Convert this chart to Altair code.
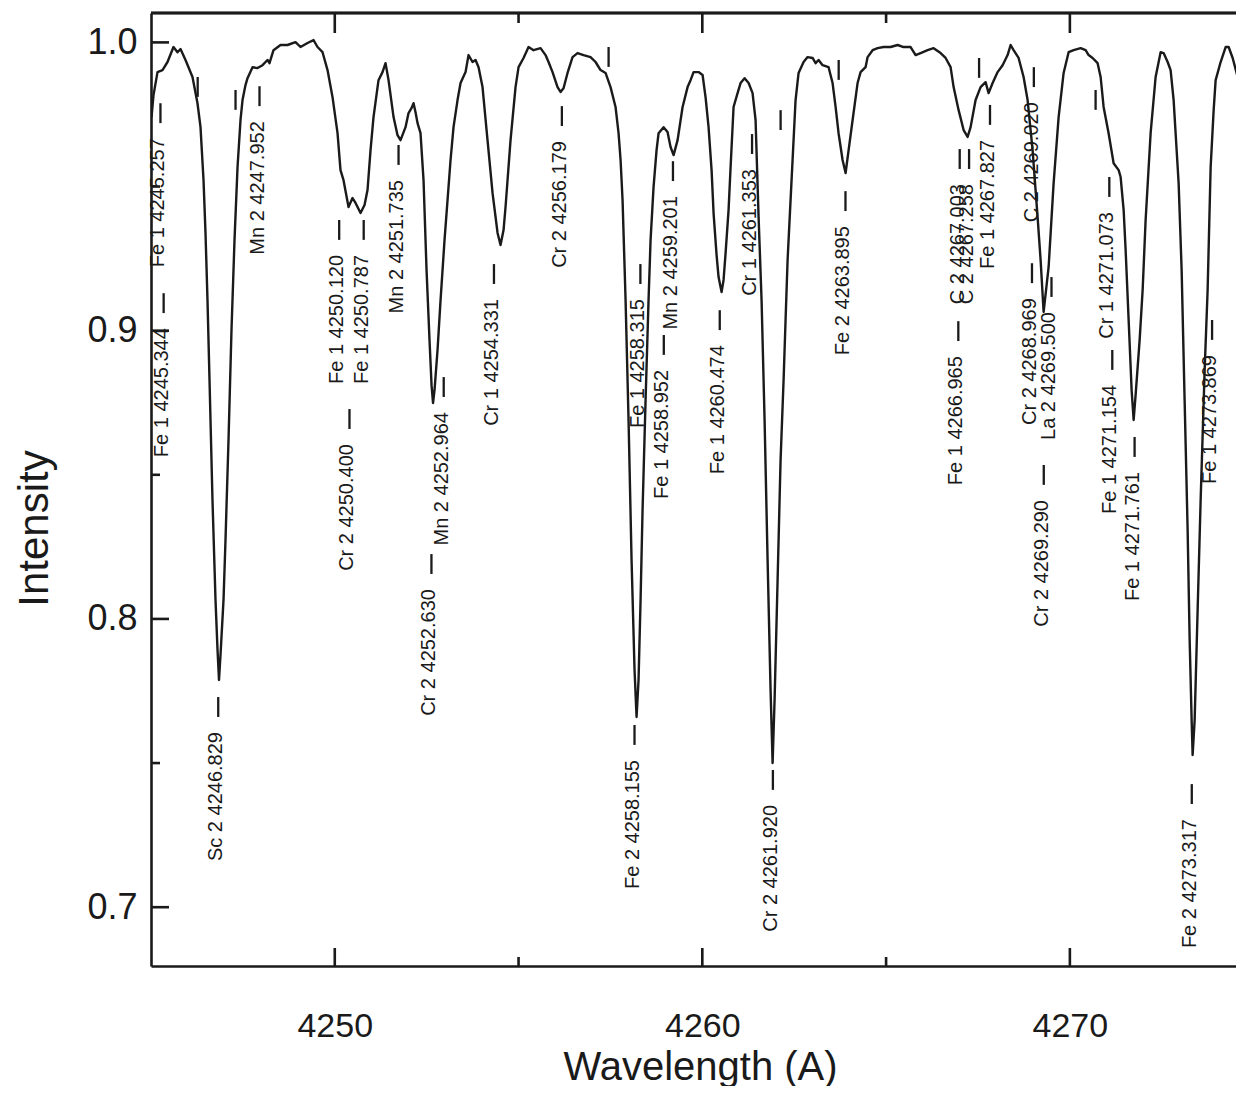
import altair as alt
import pandas as pd

FONT = "Liberation Sans"
INK = "#1a1a1a"

# ---- observed spectrum (wavelength in A, normalised intensity) ----
wave = [4245.014, 4245.068, 4245.177, 4245.313, 4245.449, 4245.612, 4245.721, 4245.803, 4245.939, 4246.129,
        4246.265, 4246.347, 4246.429, 4246.483, 4246.537, 4246.592, 4246.673, 4246.755, 4246.810, 4246.850,
        4246.891, 4246.973, 4247.027, 4247.109, 4247.190, 4247.272, 4247.354, 4247.435, 4247.490, 4247.571,
        4247.626, 4247.762, 4247.898, 4248.034, 4248.170, 4248.224, 4248.333, 4248.524, 4248.714, 4248.932,
        4249.068, 4249.259, 4249.422, 4249.531, 4249.667, 4249.803, 4249.939, 4250.075, 4250.156, 4250.238,
        4250.374, 4250.483, 4250.565, 4250.701, 4250.810, 4250.891, 4250.973, 4251.054, 4251.190, 4251.299,
        4251.381, 4251.463, 4251.599, 4251.707, 4251.789, 4251.925, 4252.007, 4252.088, 4252.143, 4252.197,
        4252.252, 4252.333, 4252.415, 4252.497, 4252.578, 4252.633, 4252.673, 4252.714, 4252.796, 4252.878,
        4252.986, 4253.068, 4253.150, 4253.231, 4253.340, 4253.422, 4253.558, 4253.639, 4253.748, 4253.830,
        4253.912, 4254.020, 4254.156, 4254.293, 4254.429, 4254.510, 4254.592, 4254.646, 4254.782, 4254.918,
        4255.000, 4255.136, 4255.272, 4255.408, 4255.599, 4255.735, 4255.816, 4255.925, 4256.061, 4256.143,
        4256.224, 4256.333, 4256.469, 4256.605, 4256.769, 4256.959, 4257.095, 4257.231, 4257.367, 4257.503,
        4257.639, 4257.721, 4257.776, 4257.830, 4257.912, 4257.993, 4258.075, 4258.156, 4258.211, 4258.265,
        4258.320, 4258.374, 4258.456, 4258.537, 4258.592, 4258.673, 4258.755, 4258.810, 4258.946, 4259.054,
        4259.136, 4259.218, 4259.327, 4259.463, 4259.599, 4259.680, 4259.762, 4259.898, 4260.007, 4260.088,
        4260.170, 4260.252, 4260.306, 4260.388, 4260.442, 4260.524, 4260.578, 4260.633, 4260.714, 4260.769,
        4260.850, 4260.959, 4261.041, 4261.150, 4261.259, 4261.367, 4261.449, 4261.531, 4261.612, 4261.694,
        4261.776, 4261.857, 4261.912, 4261.966, 4262.048, 4262.129, 4262.211, 4262.265, 4262.320, 4262.401,
        4262.537, 4262.619, 4262.755, 4262.864, 4263.000, 4263.082, 4263.163, 4263.272, 4263.435, 4263.544,
        4263.626, 4263.707, 4263.816, 4263.898, 4263.980, 4264.088, 4264.224, 4264.306, 4264.442, 4264.497,
        4264.633, 4264.769, 4264.932, 4265.122, 4265.313, 4265.476, 4265.667, 4265.803, 4265.939, 4266.129,
        4266.293, 4266.483, 4266.619, 4266.755, 4266.837, 4266.973, 4267.109, 4267.218, 4267.299, 4267.435,
        4267.571, 4267.707, 4267.789, 4267.898, 4268.034, 4268.170, 4268.306, 4268.388, 4268.469, 4268.605,
        4268.741, 4268.850, 4268.986, 4269.122, 4269.204, 4269.286, 4269.367, 4269.422, 4269.558, 4269.694,
        4269.830, 4269.966, 4270.102, 4270.293, 4270.429, 4270.510, 4270.619, 4270.755, 4270.837, 4270.918,
        4271.054, 4271.190, 4271.327, 4271.381, 4271.463, 4271.517, 4271.599, 4271.680, 4271.735, 4271.789,
        4271.898, 4271.980, 4272.061, 4272.197, 4272.333, 4272.469, 4272.551, 4272.660, 4272.741, 4272.823,
        4272.905, 4272.959, 4273.041, 4273.122, 4273.204, 4273.259, 4273.313, 4273.340, 4273.395, 4273.476,
        4273.558, 4273.667, 4273.748, 4273.830, 4273.912, 4273.966, 4274.102, 4274.238, 4274.320, 4274.429,
        4274.565, 4274.701, 4274.755]

flux = [0.9741, 0.9817, 0.9897, 0.9904, 0.9932, 0.9984, 0.9966, 0.9977, 0.9939, 0.9880,
        0.9789, 0.9706, 0.9522, 0.9339, 0.9106, 0.8829, 0.8412, 0.8066, 0.7892, 0.7788,
        0.7875, 0.8066, 0.8274, 0.8621, 0.9002, 0.9314, 0.9567, 0.9730, 0.9800, 0.9852,
        0.9876, 0.9914, 0.9911, 0.9921, 0.9939, 0.9928, 0.9973, 0.9991, 0.9991, 1.0001,
        0.9984, 0.9998, 1.0008, 0.9984, 0.9966, 0.9904, 0.9810, 0.9685, 0.9557, 0.9522,
        0.9429, 0.9460, 0.9443, 0.9408, 0.9436, 0.9488, 0.9626, 0.9741, 0.9869, 0.9897,
        0.9928, 0.9869, 0.9741, 0.9678, 0.9661, 0.9706, 0.9755, 0.9772, 0.9789, 0.9758,
        0.9720, 0.9685, 0.9522, 0.9210, 0.8967, 0.8811, 0.8749, 0.8794, 0.8933, 0.9106,
        0.9314, 0.9453, 0.9592, 0.9706, 0.9800, 0.9859, 0.9897, 0.9956, 0.9932, 0.9939,
        0.9914, 0.9845, 0.9661, 0.9477, 0.9339, 0.9297, 0.9349, 0.9429, 0.9661, 0.9845,
        0.9914, 0.9946, 0.9984, 0.9973, 0.9980, 0.9956, 0.9932, 0.9897, 0.9845, 0.9828,
        0.9841, 0.9894, 0.9949, 0.9963, 0.9956, 0.9949, 0.9932, 0.9904, 0.9894, 0.9845,
        0.9776, 0.9685, 0.9592, 0.9453, 0.9106, 0.8690, 0.8204, 0.7823, 0.7660, 0.7788,
        0.8066, 0.8378, 0.8759, 0.9106, 0.9314, 0.9498, 0.9626, 0.9685, 0.9706, 0.9689,
        0.9637, 0.9609, 0.9661, 0.9776, 0.9845, 0.9869, 0.9897, 0.9897, 0.9887, 0.9810,
        0.9706, 0.9557, 0.9408, 0.9262, 0.9186, 0.9134, 0.9176, 0.9269, 0.9418, 0.9567,
        0.9776, 0.9824, 0.9859, 0.9876, 0.9859, 0.9824, 0.9730, 0.9394, 0.9106, 0.8690,
        0.8204, 0.7753, 0.7500, 0.7719, 0.8135, 0.8551, 0.8829, 0.9037, 0.9245, 0.9453,
        0.9800, 0.9894, 0.9932, 0.9949, 0.9946, 0.9928, 0.9939, 0.9921, 0.9914, 0.9859,
        0.9776, 0.9685, 0.9592, 0.9547, 0.9626, 0.9730, 0.9859, 0.9897, 0.9914, 0.9949,
        0.9973, 0.9980, 0.9984, 0.9984, 0.9991, 0.9984, 0.9984, 0.9956, 0.9963, 0.9973,
        0.9980, 0.9963, 0.9946, 0.9914, 0.9845, 0.9765, 0.9696, 0.9672, 0.9706, 0.9800,
        0.9845, 0.9862, 0.9824, 0.9859, 0.9897, 0.9921, 0.9956, 0.9991, 0.9973, 0.9946,
        0.9880, 0.9800, 0.9626, 0.9394, 0.9245, 0.9065, 0.9158, 0.9221, 0.9512, 0.9741,
        0.9894, 0.9966, 0.9973, 0.9980, 0.9973, 0.9956, 0.9946, 0.9928, 0.9880, 0.9776,
        0.9685, 0.9581, 0.9557, 0.9533, 0.9418, 0.9280, 0.9037, 0.8794, 0.8690, 0.8777,
        0.8967, 0.9141, 0.9384, 0.9685, 0.9880, 0.9966, 0.9963, 0.9932, 0.9904, 0.9800,
        0.9626, 0.9512, 0.9210, 0.8759, 0.8308, 0.7927, 0.7649, 0.7528, 0.7649, 0.8031,
        0.8412, 0.8863, 0.9141, 0.9567, 0.9765, 0.9869, 0.9932, 0.9984, 0.9984, 0.9946,
        0.9880, 0.9800, 0.9730]

# ---- line identifications ----
line_species = ["Fe 1", "Fe 1", "Sc 2", "Mn 2", "Fe 1", "Fe 1", "Cr 2", "Mn 2", "Cr 2", "Mn 2",
                "Cr 1", "Cr 2", "Fe 2", "Fe 1", "Fe 1", "Mn 2", "Fe 1", "Cr 1", "Cr 2", "Fe 2",
                "Fe 1", "C 2", "C 2", "Fe 1", "Cr 2", "C 2", "Cr 2", "La 2", "Cr 1", "Fe 1",
                "Fe 1", "Fe 2", "Fe 1", "Cr 1"]
line_wave = [4245.257, 4245.344, 4246.829, 4247.952, 4250.120, 4250.787, 4250.400, 4251.735, 4252.630, 4252.964,
             4254.331, 4256.179, 4258.155, 4258.315, 4258.952, 4259.201, 4260.474, 4261.353, 4261.920, 4263.895,
             4266.965, 4267.003, 4267.258, 4267.827, 4268.969, 4269.020, 4269.290, 4269.500, 4271.073, 4271.154,
             4271.761, 4273.317, 4273.869, 4274.806]
line_level = [0.9789, 0.9130, 0.7729, 0.9848, 0.9384, 0.9384, 0.8728, 0.9644, 0.8225, 0.8839,
              0.9231, 0.9779, 0.7632, 0.9231, 0.8985, 0.9588, 0.9071, 0.9682, 0.7476, 0.9484,
              0.9033, 0.9630, 0.9630, 0.9783, 0.9234, 0.9914, 0.8534, 0.9186, 0.9533, 0.8933,
              0.8631, 0.7427, 0.9037, 0.9620]

# unlabelled marker ticks
extra_wave = [4246.27, 4247.30, 4257.45, 4262.13, 4263.71, 4267.53, 4270.70]
extra_level = [0.9880, 0.9835, 0.9984, 0.9765, 0.9939, 0.9946, 0.9835]

# axis ticks
x_major = [4250, 4260, 4270]
x_minor = [4255, 4265]
y_major = [0.7, 0.8, 0.9, 1.0]
y_minor = [0.75, 0.85, 0.95]

W, H = 1085, 953
x_scale = alt.Scale(domain=[4245.0, 4274.52], nice=False, zero=False)
y_scale = alt.Scale(domain=[0.6796, 1.0102], nice=False, zero=False)

x_axis = alt.Axis(values=x_major, format="d", ticks=False, tickSize=0, grid=False,
                  domainColor=INK, domainWidth=2.6,
                  labelFont=FONT, labelFontSize=34, labelColor=INK, labelPadding=43, labelFlush=False,
                  title="Wavelength (A)", titleFont=FONT, titleFontSize=40, titleFontWeight="normal",
                  titleColor=INK, titleX=549, titleY=113, titleAlign="center",
                  titleBaseline="alphabetic", titleAngle=0)
y_axis = alt.Axis(values=y_major, format=".1f", ticks=False, tickSize=0, grid=False,
                  domainColor=INK, domainWidth=2.6,
                  labelFont=FONT, labelFontSize=36, labelColor=INK, labelPadding=14, labelFlush=False,
                  title="Intensity", titleFont=FONT, titleFontSize=42, titleFontWeight="normal",
                  titleColor=INK, titleX=-104, titleY=515, titleAngle=270, titleAlign="center",
                  titleBaseline="alphabetic")


def X(f):
    return alt.X(f, type="quantitative", scale=x_scale, axis=x_axis)


def Y(f):
    return alt.Y(f, type="quantitative", scale=y_scale, axis=y_axis)


spec_df = pd.DataFrame({"x": wave, "y": flux})
lab_df = pd.DataFrame({
    "x": line_wave,
    "y": line_level,
    "label": [f"{s} {w:.3f}" for s, w in zip(line_species, line_wave)],
})
mark_df = pd.DataFrame({"x": line_wave + extra_wave, "y": line_level + extra_level})

spectrum = alt.Chart(spec_df).mark_line(color=INK, strokeWidth=2.4, strokeJoin="round", clip=True).encode(
    x=X("x"), y=Y("y"))

id_ticks = alt.Chart(mark_df).transform_calculate(y2="datum.y - 0.0069").mark_rule(
    color=INK, strokeWidth=2.3).encode(x=X("x"), y=Y("y"), y2=alt.Y2("y2:Q"))

id_text = alt.Chart(lab_df).mark_text(angle=270, align="right", baseline="alphabetic", dx=-35, dy=4,
                                      font=FONT, fontSize=20, color=INK).encode(
    x=X("x"), y=Y("y"), text="label:N")

xmaj_df = pd.DataFrame({"x": x_major})
xmin_df = pd.DataFrame({"x": x_minor})
ymaj_df = pd.DataFrame({"y": y_major})
ymin_df = pd.DataFrame({"y": y_minor})

rule_style = dict(color=INK, strokeWidth=2.6)
bot_major = alt.Chart(xmaj_df).mark_rule(**rule_style).encode(x=X("x"), y=alt.value(H), y2=alt.value(H - 18))
bot_minor = alt.Chart(xmin_df).mark_rule(**rule_style).encode(x=X("x"), y=alt.value(H), y2=alt.value(H - 9))
top_major = alt.Chart(xmaj_df).mark_rule(**rule_style).encode(x=X("x"), y=alt.value(0), y2=alt.value(20))
top_minor = alt.Chart(xmin_df).mark_rule(**rule_style).encode(x=X("x"), y=alt.value(0), y2=alt.value(10))
left_major = alt.Chart(ymaj_df).mark_rule(**rule_style).encode(y=Y("y"), x=alt.value(0), x2=alt.value(18))
left_minor = alt.Chart(ymin_df).mark_rule(**rule_style).encode(y=Y("y"), x=alt.value(0), x2=alt.value(9))
top_border = alt.Chart(xmaj_df).mark_rule(**rule_style).encode(
    x=alt.value(0), x2=alt.value(W), y=alt.value(0))

chart = alt.layer(
    spectrum, id_ticks, id_text,
    bot_major, bot_minor, top_major, top_minor, left_major, left_minor, top_border,
).properties(
    width=W, height=H,
    autosize=alt.AutoSizeParams(type="none"),
    padding={"left": 143, "top": 5, "right": 0, "bottom": 120},
    background="white",
).configure_view(strokeWidth=0)

chart.save("out.html", embed_options={"renderer": "svg", "actions": False})
